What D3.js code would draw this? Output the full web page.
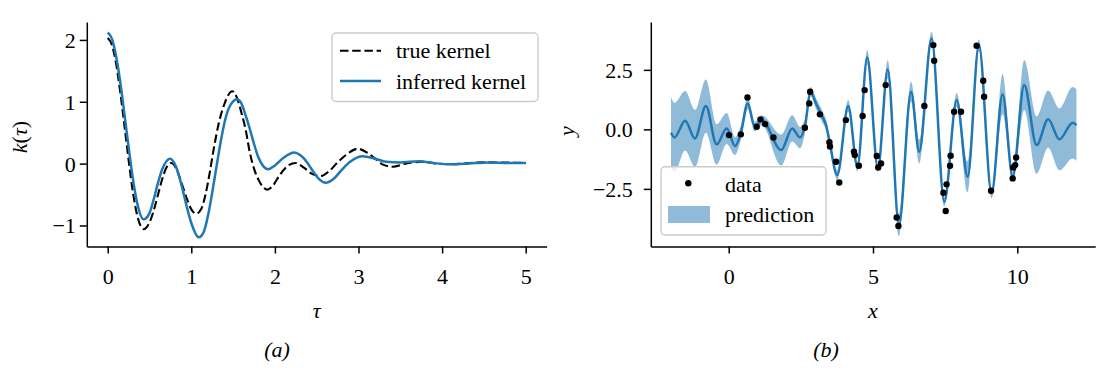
<!DOCTYPE html>
<html lang="en">
<head>
<meta charset="UTF-8">
<title>Kernel and GP prediction</title>
<script src="https://d3js.org/d3.v7.min.js"></script>
<style>
  body { margin: 0; background: #fff; }
  svg text { font-family: 'Liberation Serif', 'DejaVu Serif', serif; fill: #000; }
</style>
</head>
<body>
<div class="chart"></div>
<script>
// (a) kernels
const tauTrue = [0, 0.05, 0.1, 0.15, 0.2, 0.25, 0.3, 0.35, 0.43, 0.5, 0.55, 0.6, 0.65, 0.7, 0.76,
  0.82, 0.88, 0.95, 1.0, 1.06, 1.12, 1.17, 1.22, 1.27, 1.33, 1.4, 1.49, 1.55, 1.6, 1.65, 1.7, 1.75,
  1.8, 1.86, 1.91, 1.98, 2.05, 2.15, 2.25, 2.35, 2.45, 2.55, 2.65, 2.75, 2.85, 2.99, 3.1, 3.2, 3.3,
  3.41, 3.56, 3.76, 3.95, 4.1, 4.5, 5.0];
const kTrue = [2.03, 1.92, 1.62, 1.16, 0.62, 0.06, -0.45, -0.82, -1.06, -0.95, -0.76, -0.51, -0.26, -0.07, 0.01,
  -0.08, -0.3, -0.58, -0.74, -0.81, -0.73, -0.5, -0.15, 0.25, 0.66, 0.98, 1.17, 1.05, 0.82, 0.55, 0.18, -0.08,
  -0.25, -0.38, -0.42, -0.35, -0.2, -0.04, 0.01, -0.07, -0.17, -0.2, -0.12, 0.02, 0.14, 0.24, 0.18, 0.08, -0.02,
  -0.05, 0.0, 0.03, 0.0, -0.01, 0.02, 0.01];

const tauInferred = [0, 0.05, 0.1, 0.15, 0.2, 0.25, 0.3, 0.35, 0.43, 0.5, 0.55, 0.6, 0.65, 0.745,
  0.8, 0.85, 0.9, 0.95, 1.0, 1.09, 1.15, 1.2, 1.25, 1.3, 1.35, 1.4, 1.45, 1.55, 1.6, 1.65, 1.7, 1.75,
  1.8, 1.86, 1.92, 2.0, 2.1, 2.23, 2.35, 2.45, 2.52, 2.61, 2.7, 2.8, 2.9, 3.05, 3.2, 3.33, 3.5,
  3.72, 3.9, 4.08, 4.3, 4.56, 4.8, 5.0];
const kInferred = [2.12, 2.02, 1.74, 1.32, 0.8, 0.27, -0.23, -0.62, -0.9, -0.8, -0.58, -0.32, -0.1, 0.08,
  0.0, -0.18, -0.44, -0.72, -0.96, -1.19, -1.1, -0.84, -0.47, -0.06, 0.34, 0.68, 0.9, 1.04, 0.97, 0.78, 0.56, 0.32,
  0.11, -0.04, -0.09, -0.03, 0.09, 0.18, 0.08, -0.11, -0.24, -0.31, -0.25, -0.1, 0.03, 0.12, 0.08, 0.03, 0.02,
  0.04, 0.01, -0.01, 0.0, 0.02, 0.01, 0.01];

// (b) prediction
const predX = [-2.0, -1.88, -1.51, -1.17, -0.79, -0.42, -0.07, 0.22, 0.42, 0.66,
  0.9, 1.15, 1.82, 2.2, 2.47, 2.64, 2.84, 3.02, 3.22, 3.38,
  3.5, 3.76, 4.14, 4.46, 4.8, 5.17, 5.51, 5.9, 6.32, 6.6,
  7.03, 7.47, 7.9, 8.28, 8.67, 9.11, 9.49, 9.84, 10.24, 10.67,
  11.07, 11.46, 11.92, 12.05];
const predMean = [-0.14, -0.34, 0.36, -0.38, 0.98, -0.63, 0.04, -0.70, -0.15, 1.09,
  0.12, 0.38, -0.87, 0.04, -0.34, 0.12, 1.58, 1.1, 0.6, 0.15,
  -0.55, -1.92, 0.98, -1.57, 3.02, -1.62, 2.52, -4.02, 1.58, -0.94,
  3.82, -3.04, 1.23, -1.99, 3.54, -2.67, 1.48, -1.99, 1.86, -0.66,
  0.43, -0.42, 0.28, 0.18];
const predHalf = [1.5, 1.45, 1.25, 1.2, 1.12, 0.85, 0.65, 0.38, 0.3, 0.25,
  0.2, 0.2, 0.65, 0.55, 0.45, 0.3, 0.2, 0.22, 0.25, 0.22,
  0.2, 0.2, 0.25, 0.2, 0.3, 0.15, 0.38, 0.48, 0.42, 0.5,
  0.28, 0.2, 0.3, 0.65, 0.24, 0.22, 0.85, 0.2, 1.05, 1.2,
  1.2, 1.3, 1.5, 1.5];

const dataX = [0.01, 0.42, 0.65, 0.97, 1.1, 1.26, 1.55, 2.64, 2.79, 2.82,
  3.16, 3.49, 3.51, 3.72, 3.83, 4.06, 4.34, 4.37, 4.51, 4.64,
  4.71, 5.13, 5.18, 5.28, 5.44, 5.82, 5.88, 6.78, 7.09, 7.12,
  7.44, 7.52, 7.55, 7.67, 7.69, 7.81, 8.05, 8.59, 8.82, 8.85,
  9.09, 9.84, 9.86, 9.93, 9.96];
const dataY = [-0.24, -0.21, 1.34, 0.11, 0.42, 0.22, -0.34, 0.07, 1.09, 1.58,
  0.63, -0.54, -0.72, -1.36, -2.23, 0.39, -0.94, -1.08, -1.53, 0.56,
  1.65, -1.12, -1.6, -1.43, 1.86, -3.7, -4.06, 0.98, 3.54, 2.88,
  -2.66, -3.43, -2.31, -1.53, -1.11, 0.74, 0.74, 3.51, 2.04, 1.37,
  -2.58, -2.06, -1.6, -1.5, -1.18];

const kernelXTicks = [0, 1, 2, 3, 4, 5];
const kernelYTicks = [-1, 0, 1, 2];
const predXTicks = [0, 5, 10];
const predYTicks = [-2.5, 0, 2.5];
const predYTickLabels = ["\u22122.5", "0.0", "2.5"];

const blue = '#1f77b4';
const fontSize = 22;
const fontFamily = "'Liberation Serif', 'DejaVu Serif', serif";

const svg = d3.select('.chart')
  .append('svg')
  .attr('width', 1108)
  .attr('height', 373)
  .style('font-family', fontFamily);

function styleAxis(g) {
  g.attr('font-size', fontSize).attr('font-family', null).style('font-family', fontFamily);
  g.select('.domain').attr('stroke-width', 1.5);
  g.selectAll('.tick line').attr('stroke-width', 1.5);
  g.selectAll('.tick text').attr('fill', '#000');
}

// ---------- panel (a) ----------
const xK = d3.scaleLinear().domain([-0.25, 5.25]).range([86.8, 546.6]);
const yK = d3.scaleLinear().domain([-1.34, 2.29]).range([246.5, 22]);

const trueLine = d3.line()
  .x((d, i) => xK(tauTrue[i]))
  .y(d => yK(d))
  .curve(d3.curveMonotoneX);
const inferredLine = d3.line()
  .x((d, i) => xK(tauInferred[i]))
  .y(d => yK(d))
  .curve(d3.curveMonotoneX);

svg.append('path')
  .datum(kTrue)
  .attr('fill', 'none')
  .attr('stroke', '#000')
  .attr('stroke-width', 2.1)
  .attr('stroke-dasharray', '8.5,3.7')
  .attr('d', trueLine);

svg.append('path')
  .datum(kInferred)
  .attr('fill', 'none')
  .attr('stroke', blue)
  .attr('stroke-width', 2.5)
  .attr('d', inferredLine);

svg.append('g')
  .attr('transform', `translate(0,${yK.range()[0]})`)
  .call(d3.axisBottom(xK).tickValues(kernelXTicks).tickFormat(d3.format('d')).tickSize(7).tickSizeOuter(0))
  .call(styleAxis)
  .call(g => g.selectAll('.tick text').attr('y', 284 - 246.5).attr('dy', 0));

svg.append('g')
  .attr('transform', `translate(${xK.range()[0]},0)`)
  .call(d3.axisLeft(yK).tickValues(kernelYTicks).tickFormat(d => d < 0 ? '\u2212' + Math.abs(d) : d).tickSize(7).tickPadding(4).tickSizeOuter(0))
  .call(styleAxis)
  .call(g => g.selectAll('.tick text').attr('dy', '0.34em'));

// legend (a)
const legA = svg.append('g');
legA.append('rect')
  .attr('x', 332).attr('y', 33).attr('width', 206).attr('height', 68.5)
  .attr('rx', 4).attr('fill', '#fff').attr('fill-opacity', 0.8)
  .attr('stroke', '#cccccc').attr('stroke-width', 1.4);
legA.append('line')
  .attr('x1', 340).attr('x2', 381).attr('y1', 50.7).attr('y2', 50.7)
  .attr('stroke', '#000').attr('stroke-width', 2.1).attr('stroke-dasharray', '8.5,3.7');
legA.append('line')
  .attr('x1', 340).attr('x2', 381).attr('y1', 81).attr('y2', 81)
  .attr('stroke', blue).attr('stroke-width', 2.5);
legA.append('text').attr('x', 396).attr('y', 57.5).attr('font-size', fontSize).text('true kernel');
legA.append('text').attr('x', 396).attr('y', 88.5).attr('font-size', fontSize).text('inferred kernel');

// labels (a)
const kLabel = svg.append('text')
  .attr('transform', 'translate(27,137) rotate(-90)')
  .attr('text-anchor', 'middle')
  .attr('font-size', fontSize);
kLabel.append('tspan').attr('font-style', 'italic').text('k');
kLabel.append('tspan').text('(');
kLabel.append('tspan').attr('font-style', 'italic').text('\u03c4');
kLabel.append('tspan').text(')');

svg.append('text')
  .attr('x', (xK.range()[0] + xK.range()[1]) / 2).attr('y', 318)
  .attr('text-anchor', 'middle').attr('font-size', fontSize).attr('font-style', 'italic')
  .text('\u03c4');

svg.append('text')
  .attr('x', 277).attr('y', 357)
  .attr('text-anchor', 'middle').attr('font-size', fontSize).attr('font-style', 'italic')
  .text('(a)');

// ---------- panel (b) ----------
const xP = d3.scaleLinear().domain([-2.7, 12.7]).range([650.8, 1095.2]);
const yP = d3.scaleLinear().domain([-4.92, 4.51]).range([246.5, 22]);

const band = d3.area()
  .x((d, i) => xP(predX[i]))
  .y0((d, i) => yP(d - predHalf[i]))
  .y1((d, i) => yP(d + predHalf[i]))
  .curve(d3.curveMonotoneX);

const meanLine = d3.line()
  .x((d, i) => xP(predX[i]))
  .y(d => yP(d))
  .curve(d3.curveMonotoneX);

svg.append('path')
  .datum(predMean)
  .attr('fill', blue)
  .attr('fill-opacity', 0.5)
  .attr('d', band);

svg.append('path')
  .datum(predMean)
  .attr('fill', 'none')
  .attr('stroke', blue)
  .attr('stroke-width', 2.5)
  .attr('d', meanLine);

svg.append('g')
  .selectAll('circle')
  .data(dataY)
  .enter().append('circle')
  .attr('cx', (d, i) => xP(dataX[i]))
  .attr('cy', d => yP(d))
  .attr('r', 3.2)
  .attr('fill', '#000');

svg.append('g')
  .attr('transform', `translate(0,${yP.range()[0]})`)
  .call(d3.axisBottom(xP).tickValues(predXTicks).tickFormat(d3.format('d')).tickSize(7).tickSizeOuter(0))
  .call(styleAxis)
  .call(g => g.selectAll('.tick text').attr('y', 284 - 246.5).attr('dy', 0));

svg.append('g')
  .attr('transform', `translate(${xP.range()[0]},0)`)
  .call(d3.axisLeft(yP).tickValues(predYTicks).tickFormat((d, i) => predYTickLabels[i]).tickSize(7).tickPadding(11).tickSizeOuter(0))
  .call(styleAxis)
  .call(g => g.selectAll('.tick text').attr('dy', '0.34em'));

// legend (b)
const legB = svg.append('g');
legB.append('rect')
  .attr('x', 661).attr('y', 166.7).attr('width', 165).attr('height', 68.3)
  .attr('rx', 4).attr('fill', '#fff').attr('fill-opacity', 0.8)
  .attr('stroke', '#cccccc').attr('stroke-width', 1.4);
legB.append('circle').attr('cx', 688.3).attr('cy', 183.3).attr('r', 3.2).attr('fill', '#000');
legB.append('rect')
  .attr('x', 668).attr('y', 206).attr('width', 42).attr('height', 17)
  .attr('fill', blue).attr('fill-opacity', 0.5);
legB.append('text').attr('x', 725).attr('y', 191.7).attr('font-size', fontSize).text('data');
legB.append('text').attr('x', 725).attr('y', 221.7).attr('font-size', fontSize).text('prediction');

// labels (b)
svg.append('text')
  .attr('transform', 'translate(574,131) rotate(-90)')
  .attr('text-anchor', 'middle')
  .attr('font-size', fontSize).attr('font-style', 'italic')
  .text('y');

svg.append('text')
  .attr('x', (xP.range()[0] + xP.range()[1]) / 2).attr('y', 318)
  .attr('text-anchor', 'middle').attr('font-size', fontSize).attr('font-style', 'italic')
  .text('x');

svg.append('text')
  .attr('x', 826).attr('y', 357)
  .attr('text-anchor', 'middle').attr('font-size', fontSize).attr('font-style', 'italic')
  .text('(b)');
</script>
</body>
</html>
